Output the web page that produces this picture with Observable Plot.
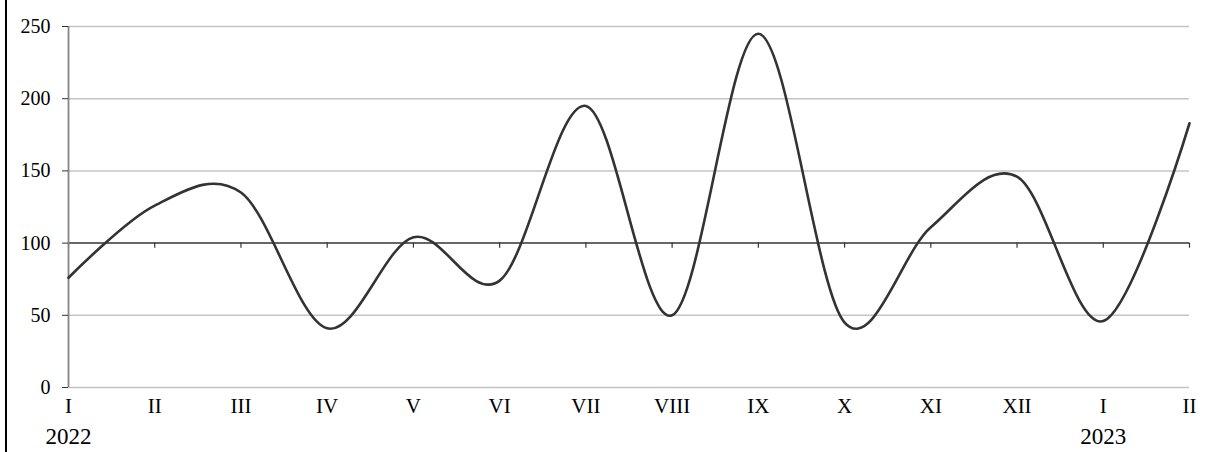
<!DOCTYPE html>
<html>
<head>
<meta charset="utf-8">
<script src="https://cdn.jsdelivr.net/npm/d3@7"></script>
<script src="https://cdn.jsdelivr.net/npm/@observablehq/plot@0.6"></script>
<style>
  html, body { margin: 0; padding: 0; background: #fff; }
  #wrap { position: relative; width: 1213px; height: 452px; overflow: hidden; }
  #edge { position: absolute; left: 5px; top: 0; width: 2px; height: 452px; background: #000; }
  #chart { position: absolute; left: 0; top: 0; }
</style>
</head>
<body>
<div id="wrap"><div id="edge"></div><div id="chart"></div></div>
<script>
const months = ["I","II","III","IV","V","VI","VII","VIII","IX","X","XI","XII","I","II"];
const years = ["2022","2023"];
const yearIndex = [0, 12];
const values = [76, 126, 135, 41, 104, 74, 195, 50, 245, 45, 111, 146, 46, 183];
const yTicks = [0, 50, 100, 150, 200, 250];
const gridTicks = [0, 50, 150, 200, 250];
const baseline = 100;

const data = values.map((v, i) => ({i, v}));
const idx = months.map((m, i) => i);
const font = "'Liberation Serif', 'Times New Roman', serif";

const chart = Plot.plot({
  width: 1213,
  height: 452,
  marginLeft: 68,
  marginRight: 24,
  marginTop: 26,
  marginBottom: 65,
  style: {fontFamily: font, background: "transparent", color: "#000"},
  x: {domain: [0, 13]},
  y: {domain: [0, 250]},
  marks: [
    Plot.ruleY(gridTicks, {stroke: "#c4c4c4", strokeWidth: 1.5}),
    Plot.ruleY([baseline], {stroke: "#333", strokeWidth: 1.5}),
    Plot.ruleX(idx, {x: d => d, y1: baseline, y2: baseline - 3.5, stroke: "#333", strokeWidth: 1.2}),
    Plot.ruleX([0], {stroke: "#858585", strokeWidth: 1.8}),
    Plot.axisY({ticks: yTicks, tickSize: 6, tickPadding: 12, fontSize: 20, stroke: "#333", label: null}),
    Plot.axisX({ticks: idx, tickSize: 0, tickPadding: 11, fontSize: 21, tickFormat: i => months[i], label: null}),
    Plot.axisX({ticks: yearIndex, tickSize: 0, tickPadding: 40, fontSize: 23, tickFormat: i => years[yearIndex.indexOf(i)], label: null}),
    Plot.line(data, {x: "i", y: "v", curve: "cardinal", stroke: "#333", strokeWidth: 2.6})
  ]
});
document.getElementById("chart").appendChild(chart);
</script>
</body>
</html>
